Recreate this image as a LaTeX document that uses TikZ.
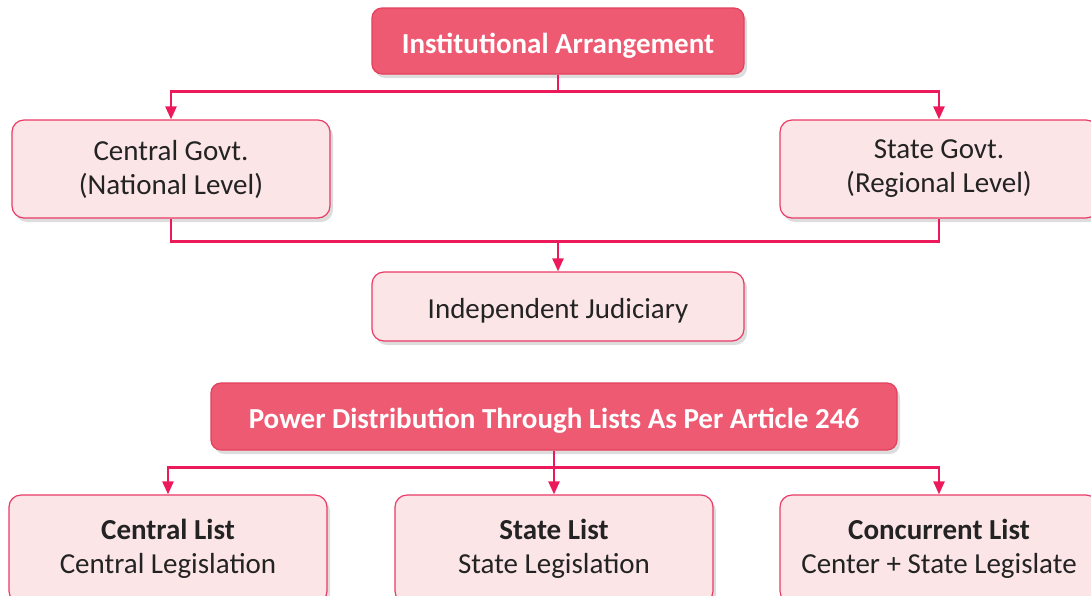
\documentclass[tikz,border=0pt]{standalone}
\usepackage{fontspec}
\setmainfont{Carlito}
\usepackage{xcolor}
\usetikzlibrary{positioning, arrows.meta, calc, shadows}

\definecolor{headfill}{HTML}{EF5A73}
\definecolor{headline}{HTML}{E2405C}
\definecolor{softfill}{HTML}{FCE5E7}
\definecolor{softline}{HTML}{EA3A66}
\definecolor{linkcol}{HTML}{EC1A5B}
\definecolor{inkcol}{HTML}{232323}

\tikzset{
  boxshadow/.style={drop shadow={shadow xshift=3pt, shadow yshift=-4pt, opacity=0.22, fill=black!60}},
  % tall strut pushes the text a little lower in the box
  boxtext/.style={execute at begin node={\rule{0pt}{29pt}}},
  headbox/.style={draw=headline, fill=headfill, line width=1.2pt, rounded corners=10pt,
    text=white, font=\fontsize{29}{34}\selectfont\bfseries, align=center, boxshadow, boxtext},
  softbox/.style={draw=softline, fill=softfill, line width=1.2pt, rounded corners=12pt,
    text=inkcol, font=\fontsize{29}{34}\selectfont, align=center, boxshadow, boxtext},
  link/.style={draw=linkcol, line width=2.4pt},
  arrow/.style={link, -{Triangle[length=13pt, width=11pt]}}
}

\begin{document}
\begin{tikzpicture}[on grid]
  \useasboundingbox (0pt,0pt) rectangle (1091pt,-595pt);

  % Upper tree
  \node[headbox, minimum width=372pt, minimum height=66pt] (inst) at (558pt,-41pt) {Institutional Arrangement};
  \node[softbox, minimum width=318pt, minimum height=98pt, below left=128pt and 387pt of inst] (central) {Central Govt.\\(National Level)};
  \node[softbox, minimum width=318pt, minimum height=98pt, below right=128pt and 381pt of inst] (stategov) {State Govt.\\(Regional Level)};
  \node[softbox, minimum width=372pt, minimum height=69pt, below=265.5pt of inst] (judiciary) {Independent Judiciary};

  % Lower tree
  \node[headbox, minimum width=686pt, minimum height=67pt] (power) at (554pt,-416.5pt) {Power Distribution Through Lists As Per Article 246};
  \node[softbox, minimum width=318pt, minimum height=108pt, below=132.5pt of power] (slist) {\textbf{State List}\\State Legislation};
  \node[softbox, minimum width=318pt, minimum height=108pt, left=386pt of slist] (clist) {\textbf{Central List}\\Central Legislation};
  \node[softbox, minimum width=318pt, minimum height=108pt, right=385pt of slist] (cclist) {\textbf{Concurrent List}\\Center + State Legislate};

  % Connectors
  \coordinate (fork1) at ($(inst.south)+(0,-17pt)$);
  \draw[link] (inst.south) -- (fork1);
  \draw[arrow] (fork1) -| (central.north);
  \draw[arrow] (fork1) -| (stategov.north);

  \coordinate (merge) at ($(judiciary.north)+(0,30pt)$);
  \draw[link] (central.south) |- (merge) -| (stategov.south);
  \draw[arrow] (merge) -- (judiciary.north);

  \coordinate (fork2) at ($(power.south)+(0,-17pt)$);
  \draw[link] (power.south) -- (fork2);
  \draw[arrow] (fork2) -| (clist.north);
  \draw[arrow] (fork2) -- (slist.north);
  \draw[arrow] (fork2) -| (cclist.north);
\end{tikzpicture}
\end{document}
